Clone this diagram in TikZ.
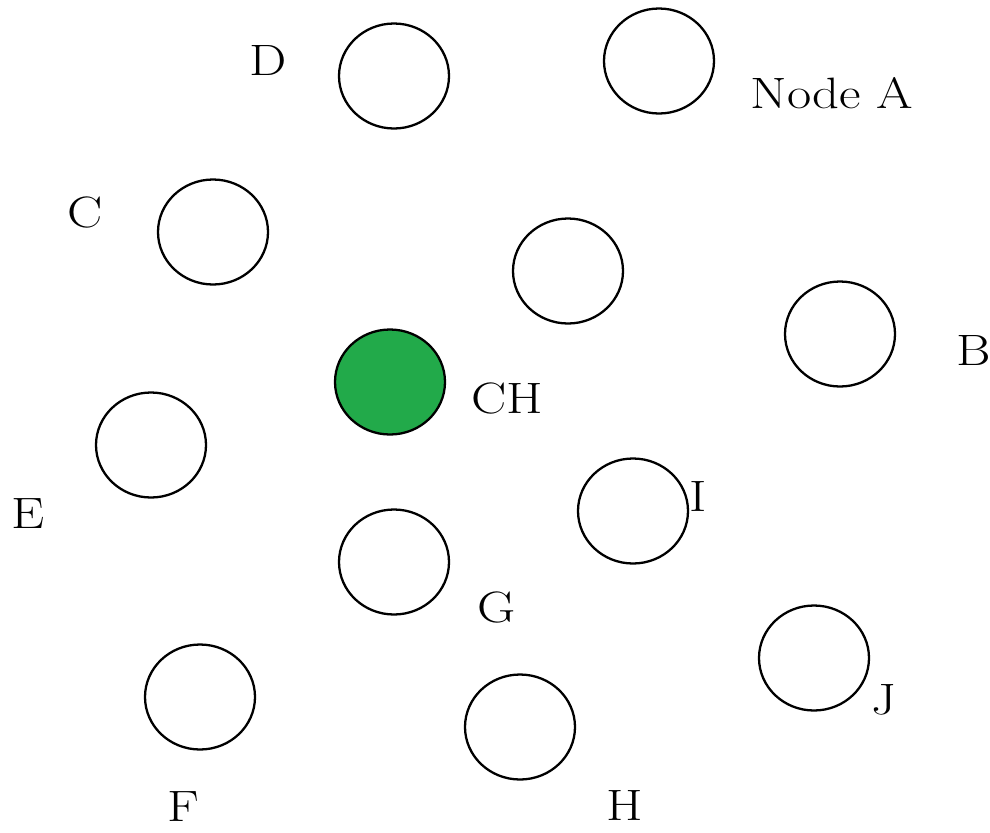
\documentclass[tikz,border=0pt]{standalone}
\usetikzlibrary{shapes.geometric}
\definecolor{chgreen}{HTML}{22AA4A}
\begin{document}
\begin{tikzpicture}[x=0.02cm,y=-0.02cm,
  nd/.style={draw=black,line width=1.3pt,ellipse,minimum width=110*0.02cm,minimum height=105*0.02cm,inner sep=0pt},
  lbl/.style={font=\fontsize{25}{28}\selectfont,xscale=1.2,inner sep=0pt,anchor=center}]
\useasboundingbox (0,0) rectangle (990,832);
\node[nd] (d) at (394,76) {};
\node[nd] (a) at (659,61) {};
\node[nd] (c) at (213,232) {};
\node[nd] (m) at (568,271) {};
\node[nd] (b) at (840,334) {};
\node[nd,fill=chgreen] (ch) at (390,382) {};
\node[nd] (e) at (151,445) {};
\node[nd] (i) at (633,511) {};
\node[nd] (g) at (394,562) {};
\node[nd] (f) at (200,697) {};
\node[nd] (j) at (814,658) {};
\node[nd] (h) at (520,727) {};
\node[lbl] (ld) at (268,60) {D};
\node[lbl] (la) at (832,93) {Node A};
\node[lbl] (lc) at (85,212) {C};
\node[lbl] (lb) at (974,350) {B};
\node[lbl] (lch) at (507,398) {CH};
\node[lbl] (le) at (28,514) {E};
\node[lbl] (li) at (698,496) {I};
\node[lbl] (lg) at (497,607) {G};
\node[lbl] (lj) at (884,700) {J};
\node[lbl] (lf) at (183,807) {F};
\node[lbl] (lh) at (625,805) {H};
\end{tikzpicture}
\end{document}
